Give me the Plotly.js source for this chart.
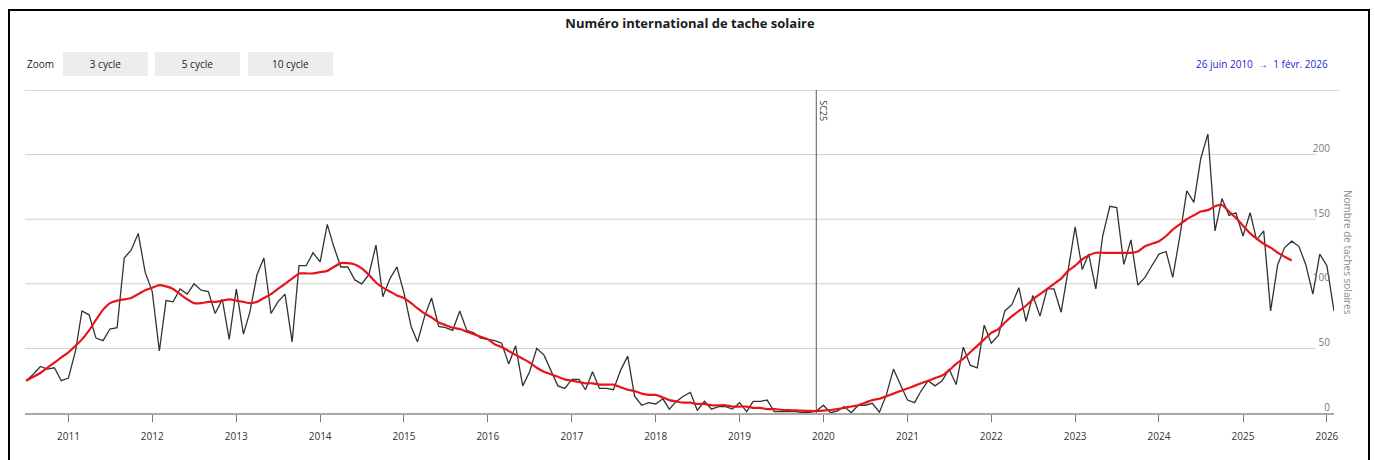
<!DOCTYPE html>
<html>
<head>
<meta charset="utf-8">
<script src="https://cdn.plot.ly/plotly-3.0.1.min.js"></script>
<style>
  html, body { margin: 0; padding: 0; background: #fff; overflow: hidden; }
  #frame { position: absolute; left: 8px; top: 9px; width: 1362px; height: 480px; border: 2px solid #000; box-sizing: border-box; pointer-events: none; z-index: 5; }
  #chart { position: absolute; left: 0; top: 0; width: 1375px; height: 460px; }
</style>
</head>
<body>
<div id="chart"></div>
<div id="frame"></div>
<script>
// ---- Data ----
const startYear = 2010, startMonth = 7; // first monthly value: July 2010

// Monthly mean sunspot number, Jul 2010 .. Feb 2026
const monthlySN = [
  25, 30, 36, 34, 35, 25,
  27, 48, 79, 76, 58, 56, 65, 66, 120, 126, 139, 109,
  94, 48, 87, 86, 96, 92, 100, 95, 94, 77, 88, 57,
  96, 61, 78, 107, 120, 77, 86, 92, 55, 114, 114, 124,
  117, 146, 129, 113, 113, 103, 100, 107, 130, 90, 104, 113,
  93, 67, 55, 75, 89, 67, 66, 64, 79, 64, 62, 58,
  57, 56, 54, 38, 52, 21, 32, 50, 45, 33, 21, 19,
  26, 26, 18, 32, 19, 19, 18, 33, 44, 13, 6, 8,
  7, 11, 3, 9, 13, 16, 2, 9, 3, 5, 5, 3,
  8, 1, 9, 9, 10, 1, 1, 0.5, 1, 0.4, 0.5, 1.5,
  6, 0.2, 1.5, 5, 0.2, 6, 6, 7.5, 0.6, 14, 34, 22,
  10, 8, 17, 25, 21, 25, 34, 22, 51, 37, 35, 68,
  54, 60, 79, 84, 97, 71, 91, 75, 96, 96, 78, 110,
  144, 111, 123, 96, 137, 160, 159, 115, 134, 99, 105, 114,
  123, 125, 105, 137, 172, 163, 197, 216, 141, 166, 153, 155,
  137, 155, 134, 141, 79, 115, 128, 133, 129, 115, 92, 123,
  114, 79
];

// 13-month smoothed sunspot number, Jul 2010 .. Aug 2025
const smoothedSN = [
  25, 28, 31, 35, 39, 43,
  47, 52, 57, 64, 72, 80, 85, 87, 88, 89, 92, 95,
  97, 99, 98, 96, 92, 88, 85, 85, 86, 86, 87, 88,
  87, 86, 85, 86, 89, 92, 96, 100, 104, 108, 108, 108,
  109, 110, 113, 116, 116, 115, 112, 107, 101, 97, 94, 91,
  89, 85, 81, 77, 74, 70, 68, 66, 65, 63, 61, 59,
  57, 53, 51, 48, 45, 42, 39, 35, 32, 30, 28, 26,
  25, 24, 23, 23, 22, 22, 22, 20, 18, 17, 15, 14,
  14, 12, 10, 9, 8, 8, 7, 7, 6, 6, 6, 5,
  5, 5, 4, 4, 3, 3, 2.5, 2.2, 2, 1.8, 1.6, 1.5,
  1.8, 2.3, 3, 4, 5, 6, 8, 10, 11, 13, 15, 17,
  19, 21, 23, 25, 27, 29, 33, 38, 42, 47, 52, 57,
  62, 65, 70, 75, 79, 83, 88, 92, 96, 100, 104, 110,
  114, 119, 122, 124, 124, 124, 124, 124, 124, 125, 129, 131,
  133, 137, 142, 146, 150, 153, 156, 157, 160, 161, 156, 151,
  145, 139, 135, 131, 128, 124, 121, 118
];

const yTickVals = [0, 50, 100, 150, 200];
const yGridVals = [50, 100, 150, 200];
const yMax = 250;
const xRange = ['2010-06-26', '2026-02-01'];
const cycleStartDate = '2019-12-01';
const cycleLabel = 'SC25';
const zoomButtons = ['3 cycle', '5 cycle', '10 cycle'];
const titleText = 'Numéro international de tache solaire';
const rangeText = '26 juin 2010  \u2192  1 févr. 2026';
const yTitleText = 'Nombre de taches solaires';

function monthDates(n) {
  const out = [];
  for (let i = 0; i < n; i++) {
    const k = (startMonth - 1) + i;
    const y = startYear + Math.floor(k / 12);
    const m = (k % 12) + 1;
    out.push(y + '-' + String(m).padStart(2, '0') + '-01');
  }
  return out;
}

// ---- Layout geometry (pixels) ----
const W = 1375, H = 460;
const M = { l: 25, r: 41, t: 90, b: 47 };
const plotW = W - M.l - M.r, plotH = H - M.t - M.b;
const px = p => (p - M.l) / plotW;
const py = p => (H - M.b - p) / plotH;

const FONT = '"Open Sans", "Liberation Sans", sans-serif';

const traces = [
  {
    x: monthDates(monthlySN.length), y: monthlySN,
    type: 'scatter', mode: 'lines',
    line: { color: '#333333', width: 1.3 },
    name: 'Mensuel', hoverinfo: 'x+y'
  },
  {
    x: monthDates(smoothedSN.length), y: smoothedSN,
    type: 'scatter', mode: 'lines',
    line: { color: '#e8141c', width: 2.2, shape: 'spline', smoothing: 0.5 },
    name: 'Lissé', hoverinfo: 'x+y'
  },
  {
    // carries the right-hand value labels (no visible marks)
    x: [], y: [], yaxis: 'y2', type: 'scatter', mode: 'lines', showlegend: false, hoverinfo: 'skip'
  }
];

const shapes = [];
yGridVals.forEach(v => shapes.push({
  type: 'line', xref: 'paper', yref: 'y', x0: 0, x1: px(1316), y0: v, y1: v,
  line: { color: '#cfcfcf', width: 1 }, layer: 'below'
}));
shapes.push({
  type: 'line', xref: 'paper', yref: 'y', x0: 0, x1: px(1340), y0: yMax, y1: yMax,
  line: { color: '#cfcfcf', width: 1.5 }, layer: 'below'
});
shapes.push({
  type: 'line', xref: 'x', yref: 'paper', x0: cycleStartDate, x1: cycleStartDate, y0: 0, y1: 1,
  line: { color: '#555555', width: 1 }, layer: 'below'
});

const annotations = [];
annotations.push({
  xref: 'paper', yref: 'paper', x: px(25), y: py(64), xanchor: 'left', yanchor: 'middle',
  text: 'Zoom', showarrow: false, font: { family: FONT, size: 10, color: '#222' }
});
const btnLeft = [63, 155, 248];
zoomButtons.forEach((t, i) => annotations.push({
  xref: 'paper', yref: 'paper', x: px(btnLeft[i]), y: py(52), xanchor: 'left', yanchor: 'top',
  width: 85, height: 24, bgcolor: '#ededed', borderpad: 0, borderwidth: 0,
  align: 'center', valign: 'middle',
  text: t, showarrow: false, font: { family: FONT, size: 10, color: '#222' }
}));
annotations.push({
  xref: 'paper', yref: 'paper', x: px(1330), y: py(64), xanchor: 'right', yanchor: 'middle',
  text: rangeText, showarrow: false, font: { family: FONT, size: 10, color: '#2323d8' }
});
annotations.push({
  xref: 'x', yref: 'paper', x: cycleStartDate, xshift: 7, y: py(98), xanchor: 'center', yanchor: 'top',
  text: cycleLabel, textangle: 90, showarrow: false, font: { family: FONT, size: 9, color: '#333' }
});
annotations.push({
  xref: 'paper', yref: 'paper', x: px(1348), y: py(252), xanchor: 'center', yanchor: 'middle',
  text: yTitleText, textangle: 90, showarrow: false, font: { family: FONT, size: 10, color: '#8a8a8a' }
});

const layout = {
  width: W, height: H,
  margin: M,
  paper_bgcolor: '#ffffff', plot_bgcolor: '#ffffff',
  showlegend: false,
  font: { family: FONT, size: 10, color: '#333' },
  title: {
    text: '<b>' + titleText + '</b>',
    xref: 'paper', x: px(690), xanchor: 'center',
    yref: 'container', y: 1 - 23 / H, yanchor: 'middle',
    font: { family: FONT, size: 13, color: '#1a1a1a' }
  },
  xaxis: {
    type: 'date', range: xRange,
    tick0: '2011-01-01', dtick: 'M12', tickformat: '%Y',
    ticks: 'outside', ticklen: 7, tickwidth: 1, tickcolor: '#777',
    showline: true, linecolor: '#a8a8a8', linewidth: 2,
    showgrid: false, zeroline: false,
    tickfont: { family: FONT, size: 10, color: '#333' },
    ticklabelstandoff: 6,
    fixedrange: true
  },
  yaxis: {
    range: [0, yMax],
    showticklabels: false, ticks: '', showgrid: false, zeroline: false, showline: false,
    fixedrange: true
  },
  yaxis2: {
    overlaying: 'y', side: 'left', anchor: 'free', position: px(1330),
    range: [0, yMax],
    tickmode: 'array', tickvals: yTickVals,
    ticks: '', ticklabelshift: -6, ticklabelstandoff: 0,
    showgrid: false, zeroline: false, showline: false,
    tickfont: { family: FONT, size: 10, color: '#777' },
    fixedrange: true
  },
  shapes: shapes,
  annotations: annotations
};

Plotly.newPlot('chart', traces, layout, { displayModeBar: false, responsive: false });
</script>
</body>
</html>
